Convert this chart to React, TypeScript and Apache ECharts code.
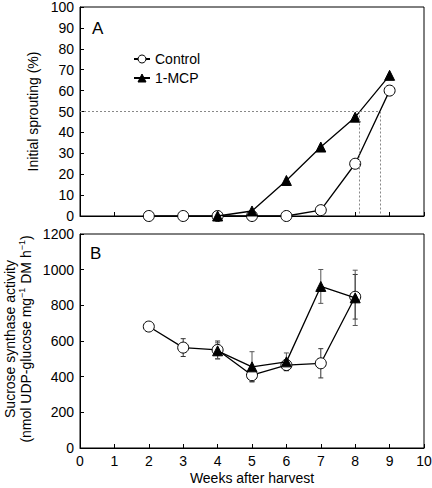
import React, { useEffect, useRef } from "react";
import * as echarts from "echarts";

// ---- Data ----
const weeksTicks = [0, 1, 2, 3, 4, 5, 6, 7, 8, 9, 10];

// Panel A: initial sprouting (%)
const sproutControlWeeks = [2, 3, 4, 5, 6, 7, 8, 9];
const sproutControl = [0, 0, 0, 0, 0, 2.8, 25, 60];
const sproutMcpWeeks = [4, 5, 6, 7, 8, 9];
const sproutMcp = [0, 2.4, 17, 33, 47.3, 67.3];

// 50 % reference lines
const refLevel = 50;
const refWeekMcp = 8.12;
const refWeekControl = 8.72;

// Panel B: sucrose synthase activity
const sucroseControlWeeks = [2, 3, 4, 5, 6, 7, 8];
const sucroseControl = [681, 563, 550, 408, 465, 475, 848];
const sucroseControlErr = [22, 50, 50, 35, 30, 82, 125];
const sucroseMcpWeeks = [4, 5, 6, 7, 8];
const sucroseMcp = [545, 455, 483, 906, 842];
const sucroseMcpErr = [45, 85, 50, 95, 155];

const FONT = "Liberation Sans, Arial, Helvetica, sans-serif";
const FS = 14;

function zip(xs: number[], ys: number[]) {
  return xs.map((x, i) => [x, ys[i]]);
}
function errData(xs: number[], ys: number[], es: number[]) {
  return xs.map((x, i) => [x, ys[i], ys[i] - es[i], ys[i] + es[i]]);
}

function errRender(color: string) {
  return (params: any, api: any) => {
    const x = api.value(0);
    const lo = api.value(2);
    const hi = api.value(3);
    const pHi = api.coord([x, hi]);
    const pLo = api.coord([x, lo]);
    const cw = 2.5;
    const st = { stroke: color, lineWidth: 1 };
    return {
      type: "group",
      children: [
        { type: "line", shape: { x1: pHi[0], y1: pHi[1], x2: pLo[0], y2: pLo[1] }, style: st },
        { type: "line", shape: { x1: pHi[0] - cw, y1: pHi[1], x2: pHi[0] + cw, y2: pHi[1] }, style: st },
        { type: "line", shape: { x1: pLo[0] - cw, y1: pLo[1], x2: pLo[0] + cw, y2: pLo[1] }, style: st },
      ],
    };
  };
}

export default function App() {
  const ref = useRef<HTMLDivElement>(null);

  useEffect(() => {
    document.body.style.margin = "0";
    const chart = echarts.init(ref.current!, null, { renderer: "svg" });

    const axisCommon = {
      axisLine: { show: true, lineStyle: { color: "#000", width: 1 } },
      axisTick: { show: true, inside: true, length: 4, lineStyle: { color: "#000" } },
      splitLine: { show: false },
    };
    const labelStyle = { fontSize: FS, fontFamily: FONT, color: "#000" };

    const option: any = {
      animation: false,
      backgroundColor: "#fff",
      textStyle: { fontFamily: FONT, color: "#000" },
      grid: [
        {
          left: 80, top: 7, width: 344, height: 209, show: true, borderColor: "#000", borderWidth: 1,
          containLabel: false, outerBoundsMode: "none",
        },
        {
          left: 80, top: 234, width: 344, height: 214, show: true, borderColor: "#000", borderWidth: 1,
          containLabel: false, outerBoundsMode: "none",
        },
      ],
      legend: {
        data: ["Control", "1-MCP"],
        orient: "vertical",
        left: 128,
        top: 47,
        itemWidth: 16,
        itemHeight: 10,
        itemGap: 5,
        itemStyle: { borderWidth: 1 },
        textStyle: { fontFamily: FONT, fontSize: FS, color: "#000" },
      },
      xAxis: [
        {
          gridIndex: 0,
          type: "value",
          min: 0,
          max: 10,
          interval: 1,
          ...axisCommon,
          axisLabel: { show: false },
        },
        {
          gridIndex: 1,
          type: "value",
          min: 0,
          max: 10,
          interval: 1,
          ...axisCommon,
          axisLabel: {
            show: true,
            ...labelStyle,
            margin: 6,
            formatter: (v: number) => (weeksTicks.includes(v) ? String(v) : ""),
          },
          name: "Weeks after harvest",
          nameLocation: "middle",
          nameGap: 23,
          nameTextStyle: labelStyle,
        },
      ],
      yAxis: [
        {
          gridIndex: 0,
          type: "value",
          min: 0,
          max: 100,
          interval: 10,
          ...axisCommon,
          axisLabel: { ...labelStyle, margin: 6, formatter: (v: number) => String(v) },
          name: "Initial sprouting (%)",
          nameLocation: "middle",
          nameRotate: 90,
          nameGap: 34,
          nameTextStyle: labelStyle,
        },
        {
          gridIndex: 1,
          type: "value",
          min: 0,
          max: 1200,
          interval: 200,
          ...axisCommon,
          axisLabel: { ...labelStyle, margin: 6, formatter: (v: number) => String(v) },
        },
      ],
      graphic: [
        { type: "text", left: 92, top: 20, style: { text: "A", fontSize: 17, fontFamily: FONT, fill: "#000" } },
        { type: "text", left: 90, top: 245, style: { text: "B", fontSize: 17, fontFamily: FONT, fill: "#000" } },
        {
          type: "text",
          x: 10,
          y: 339,
          rotation: Math.PI / 2,
          style: {
            text: "Sucrose synthase activity",
            fontSize: FS,
            fontFamily: FONT,
            fill: "#000",
            align: "center",
            verticalAlign: "middle",
          },
        },
        {
          type: "text",
          x: 25,
          y: 339,
          rotation: Math.PI / 2,
          style: {
            text: "{n|(nmol UDP-glucose mg}{s|−1}{n| DM h}{s|−1}{n|)}",
            fontSize: FS,
            fontFamily: FONT,
            fill: "#000",
            align: "center",
            verticalAlign: "middle",
            rich: {
              n: { fontSize: FS, fontFamily: FONT, fill: "#000", lineHeight: 16, verticalAlign: "bottom" },
              s: { fontSize: 9, fontFamily: FONT, fill: "#000", lineHeight: 16, verticalAlign: "top" },
            },
          },
        },
      ],
      series: [
        {
          name: "Control",
          type: "line",
          xAxisIndex: 0,
          yAxisIndex: 0,
          data: zip(sproutControlWeeks, sproutControl),
          symbol: "circle",
          symbolSize: 11,
          itemStyle: { color: "#fff", borderColor: "#000", borderWidth: 1 },
          lineStyle: { color: "#000", width: 1.3 },
          z: 3,
          markLine: {
            silent: true,
            symbol: "none",
            label: { show: false },
            lineStyle: { type: [2, 2], color: "#888", width: 1 },
            data: [
              [{ coord: [0, refLevel] }, { coord: [refWeekControl, refLevel] }],
              [{ coord: [refWeekMcp, refLevel] }, { coord: [refWeekMcp, 0] }],
              [{ coord: [refWeekControl, refLevel] }, { coord: [refWeekControl, 0] }],
            ],
          },
        },
        {
          name: "1-MCP",
          type: "line",
          xAxisIndex: 0,
          yAxisIndex: 0,
          data: zip(sproutMcpWeeks, sproutMcp),
          symbol: "triangle",
          symbolSize: 10,
          itemStyle: { color: "#000", borderColor: "#000" },
          lineStyle: { color: "#000", width: 1.3 },
          z: 4,
        },
        {
          type: "custom",
          xAxisIndex: 1,
          yAxisIndex: 1,
          data: errData(sucroseControlWeeks, sucroseControl, sucroseControlErr),
          renderItem: errRender("#333"),
          z: 1,
          silent: true,
        },
        {
          type: "custom",
          xAxisIndex: 1,
          yAxisIndex: 1,
          data: errData(sucroseMcpWeeks, sucroseMcp, sucroseMcpErr),
          renderItem: errRender("#555"),
          z: 1,
          silent: true,
        },
        {
          name: "Control",
          type: "line",
          xAxisIndex: 1,
          yAxisIndex: 1,
          data: zip(sucroseControlWeeks, sucroseControl),
          symbol: "circle",
          symbolSize: 11,
          itemStyle: { color: "#fff", borderColor: "#000", borderWidth: 1 },
          lineStyle: { color: "#000", width: 1.3 },
          z: 3,
        },
        {
          name: "1-MCP",
          type: "line",
          xAxisIndex: 1,
          yAxisIndex: 1,
          data: zip(sucroseMcpWeeks, sucroseMcp),
          symbol: "triangle",
          symbolSize: 10,
          itemStyle: { color: "#000", borderColor: "#000" },
          lineStyle: { color: "#000", width: 1.3 },
          z: 4,
        },
      ],
    };

    chart.setOption(option);
    return () => chart.dispose();
  }, []);

  return <div ref={ref} style={{ width: 432, height: 488 }} />;
}
